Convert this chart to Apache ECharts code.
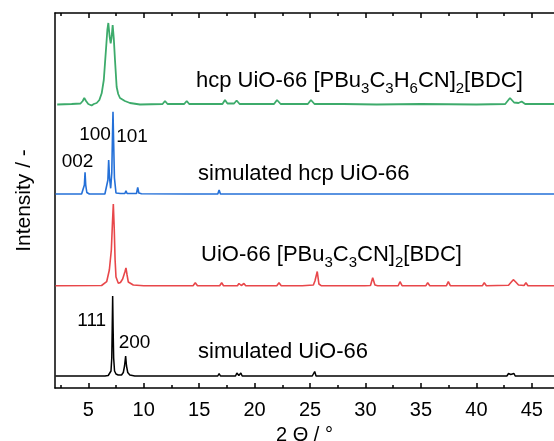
<!DOCTYPE html>
<html>
<head>
<meta charset="utf-8">
<script src="https://cdn.jsdelivr.net/npm/echarts@6/dist/echarts.min.js"></script>
<style>
  html, body { margin: 0; padding: 0; background: #fff; }
  #chart { width: 554px; height: 441px; }
</style>
</head>
<body>
<div id="chart"></div>
<script>
// tick labels / tick positions on 2 theta axis
var majorTicks = [5, 10, 15, 20, 25, 30, 35, 40, 45];
var minorTicks = [2.5, 7.5, 12.5, 17.5, 22.5, 27.5, 32.5, 37.5, 42.5];

// [2theta, intensity (offset, arbitrary units)]
// hcp UiO-66 [PBu3C3H6CN]2[BDC]
var hcpExp = [
  [2.2, 283.5], [3.5, 284], [4.3, 284.5], [4.5, 287], [4.64, 290], [4.8, 287], [5.0, 284],
  [5.3, 282.5], [5.5, 284], [5.76, 285], [6.0, 288], [6.21, 294.7], [6.4, 308], [6.51, 325],
  [6.62, 342], [6.72, 358], [6.81, 365], [6.92, 352], [7.02, 344.7], [7.1, 350], [7.2, 363],
  [7.3, 350], [7.41, 328], [7.56, 301], [7.7, 294], [7.86, 290], [8.3, 287], [8.76, 285],
  [9.66, 283.5], [11.7, 284], [11.92, 287], [12.15, 284], [13.65, 284], [13.88, 287],
  [14.1, 284], [17.1, 284], [17.33, 288], [17.55, 284.5], [18.15, 284.5], [18.38, 287.5],
  [18.65, 284], [21.75, 284], [22.02, 288], [22.35, 284], [24.8, 284], [25.08, 288],
  [25.4, 284], [28, 284], [31, 283.5], [35, 284], [40, 283.5], [42.6, 284], [43.03, 290],
  [43.4, 285.5], [43.8, 285], [44.08, 286.5], [44.4, 284], [47, 284]
];
// simulated hcp UiO-66
var hcpSim = [
  [2.05, 194], [4.4, 194], [4.55, 195], [4.65, 203], [4.71, 215.7], [4.77, 203], [4.87, 195.5],
  [5.1, 194], [6.5, 194], [6.68, 196], [6.77, 208], [6.84, 228], [6.92, 210], [7.02, 199.7],
  [7.12, 215], [7.18, 250], [7.23, 276.3], [7.29, 245], [7.36, 210], [7.5, 195], [7.9, 194.5],
  [8.3, 194.5], [8.4, 197.3], [8.5, 194.5], [9.35, 194.5], [9.46, 200.7], [9.56, 195],
  [9.66, 196.3], [9.8, 194.3], [13.95, 194], [14.08, 195.8], [14.2, 194], [16.68, 194],
  [16.8, 198], [16.92, 194], [18.4, 194], [18.5, 196], [18.62, 194], [21.9, 194],
  [22.0, 195.5], [22.1, 194], [24.0, 194], [24.1, 195.5], [24.2, 194], [26.7, 194],
  [26.8, 195.5], [26.9, 194], [28.4, 194], [28.5, 195], [28.6, 194], [30.3, 194],
  [30.4, 195], [30.5, 194], [33.4, 194], [33.5, 195], [33.6, 194], [42.95, 194],
  [43.05, 195], [43.15, 194], [47, 194]
];
// UiO-66 [PBu3C3CN]2[BDC]
var fccExp = [
  [2.05, 102.3], [6.2, 102.5], [6.66, 106.3], [6.9, 118], [7.08, 138], [7.18, 165],
  [7.26, 184], [7.34, 160], [7.42, 128], [7.5, 111], [7.71, 104.7], [7.9, 105.5],
  [8.1, 109], [8.3, 116], [8.4, 120], [8.5, 113], [8.61, 106], [9.06, 103], [10, 102.3],
  [11.75, 102.3], [11.92, 104.3], [12.1, 102.3], [14.45, 102.3], [14.65, 105.3],
  [14.85, 102.3], [16.85, 102.3], [17.03, 105.3], [17.2, 102.3], [18.45, 102.3],
  [18.59, 104.5], [18.8, 102.5], [19.04, 104.5], [19.2, 102.3], [22.0, 102.3],
  [22.2, 105.3], [22.4, 102.3], [24.0, 102.3], [24.15, 104.3], [24.3, 102.3],
  [25.3, 103], [25.44, 107], [25.52, 105], [25.65, 116.5], [25.8, 104], [26.0, 102.3],
  [28.0, 102.3], [28.15, 104.3], [28.3, 102.3], [29.65, 102.3], [29.8, 104.3],
  [29.95, 102.3], [30.45, 102.5], [30.65, 110.3], [30.85, 103], [31.1, 102.3],
  [32.05, 102.3], [32.21, 104.3], [32.35, 102.3], [32.95, 102.3], [33.11, 106.3],
  [33.3, 102.3], [34.4, 102.3], [34.55, 104.3], [34.7, 102.3], [35.45, 102.3],
  [35.61, 105.3], [35.8, 102.3], [37.3, 102.3], [37.47, 106.3], [37.65, 102.3],
  [39.33, 102.3], [39.48, 104.3], [39.63, 102.3], [40.55, 102.3], [40.71, 105.3],
  [40.9, 102.3], [42.9, 102.8], [43.15, 106], [43.33, 108.3], [43.55, 106], [43.8, 103],
  [44.3, 102.5], [44.47, 105.3], [44.65, 102.3], [47, 102.3]
];
// simulated UiO-66
var fccSim = [
  [2.05, 12], [6.5, 12], [6.8, 12.5], [6.95, 14], [7.05, 17], [7.12, 30], [7.16, 60],
  [7.2, 92], [7.24, 60], [7.29, 30], [7.37, 17], [7.5, 14], [7.7, 13], [8.0, 13],
  [8.16, 15.5], [8.27, 22], [8.37, 32], [8.45, 22], [8.56, 15.5], [8.75, 13], [9.2, 12],
  [14.38, 12], [14.5, 14], [14.62, 12], [16.68, 12], [16.8, 14.5], [16.92, 12],
  [18.28, 12], [18.4, 15], [18.58, 12.5], [18.76, 15], [18.88, 12], [20.52, 12],
  [20.63, 13.5], [20.74, 12], [21.85, 12], [21.95, 13.5], [22.05, 12], [23.9, 12],
  [24.0, 13.5], [24.1, 12], [25.2, 12], [25.3, 13.5], [25.42, 16.5], [25.54, 12],
  [27.72, 12], [27.82, 13.5], [27.92, 12], [30.25, 12], [30.35, 14], [30.45, 12],
  [31.65, 12], [31.75, 13.5], [31.85, 12], [32.6, 12], [32.7, 13.5], [32.8, 12],
  [33.96, 12], [34.06, 13.5], [34.16, 12], [35.05, 12], [35.15, 13.5], [35.25, 12],
  [35.97, 12], [36.07, 13], [36.17, 12], [37.0, 12], [37.1, 13.5], [37.2, 12],
  [38.84, 12], [38.94, 13], [39.04, 12], [40.16, 12], [40.26, 13.5], [40.36, 12],
  [42.75, 12], [42.9, 14.5], [43.1, 13.5], [43.39, 14.5], [43.5, 12], [43.88, 12],
  [43.98, 13.5], [44.08, 12], [44.65, 12], [44.75, 13], [44.85, 12], [47, 12]
];

var font = 'Liberation Sans, Arial, sans-serif';

var chart = echarts.init(document.getElementById('chart'));

function xAxisBase (pos, ticks, len, showLine, showLabel) {
  return {
    type: 'value',
    position: pos,
    min: 2,
    max: 47,
    axisLine: { show: showLine, onZero: false, lineStyle: { color: '#000', width: 1.5 } },
    axisTick: { show: true, inside: true, length: len, customValues: ticks, lineStyle: { color: '#000', width: 1.5 } },
    axisLabel: { show: showLabel, customValues: ticks, margin: 12, color: '#000', fontSize: 20, fontFamily: font },
    splitLine: { show: false }
  }
}

var xBottom = xAxisBase('bottom', majorTicks, 5, true, true);
xBottom.name = '2 Θ / °';
xBottom.nameLocation = 'middle';
xBottom.nameGap = 37;
xBottom.nameTextStyle = { color: '#000', fontSize: 20, fontFamily: font };

var labelRich = {
  t: { fontSize: 22, lineHeight: 30, fontFamily: font, color: '#000' },
  s: { fontSize: 15, lineHeight: 16, fontFamily: font, color: '#000', verticalAlign: 'bottom' }
};

function label (x, y, text) {
  return {
    type: 'text', x: x, y: y, silent: true,
    style: { text: text, rich: labelRich, align: 'left', verticalAlign: 'middle' }
  }
}
function peakLabel (x, y, text) {
  return {
    type: 'text', x: x, y: y, silent: true,
    style: { text: text, fontSize: 19, fontFamily: font, fill: '#000', align: 'center', verticalAlign: 'middle' }
  }
}

chart.setOption({
  animation: false,
  grid: { left: 55, right: 0, top: 13, bottom: 53, outerBoundsMode: 'none' },
  xAxis: [
    xBottom,
    xAxisBase('bottom', minorTicks, 3, false, false),
    xAxisBase('top', majorTicks, 5, true, false),
    xAxisBase('top', minorTicks, 3, false, false)
  ],
  yAxis: {
    type: 'value',
    min: 0,
    max: 375,
    name: 'Intensity / -',
    nameLocation: 'middle',
    nameGap: 20,
    nameTextStyle: { color: '#000', fontSize: 21, fontFamily: font },
    axisLine: { show: true, lineStyle: { color: '#000', width: 1.5 } },
    axisTick: { show: false },
    axisLabel: { show: false },
    splitLine: { show: false }
  },
  series: [
    { type: 'line', data: hcpExp, showSymbol: false, lineStyle: { color: '#3dab6b', width: 1.8 } },
    { type: 'line', data: hcpSim, showSymbol: false, lineStyle: { color: '#2470d8', width: 1.6 } },
    { type: 'line', data: fccExp, showSymbol: false, lineStyle: { color: '#e8474a', width: 1.6 } },
    { type: 'line', data: fccSim, showSymbol: false, lineStyle: { color: '#000', width: 1.5 } }
  ],
  graphic: [
    label(196, 81, '{t|hcp UiO-66 [PBu}{s|3}{t|C}{s|3}{t|H}{s|6}{t|CN]}{s|2}{t|[BDC]}'),
    label(198, 174, '{t|simulated hcp UiO-66}'),
    label(201, 255, '{t|UiO-66 [PBu}{s|3}{t|C}{s|3}{t|CN]}{s|2}{t|[BDC]}'),
    label(198, 352, '{t|simulated UiO-66}'),
    peakLabel(77.5, 162, '002'),
    peakLabel(95, 135, '100'),
    peakLabel(132, 137, '101'),
    peakLabel(91.7, 321, '111'),
    peakLabel(134.5, 343, '200')
  ]
});
</script>
</body>
</html>
